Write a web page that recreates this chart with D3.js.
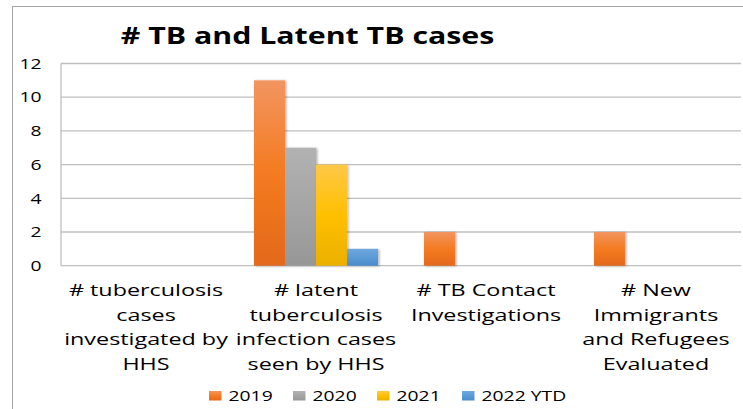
<!DOCTYPE html>
<html>
<head>
<meta charset="utf-8">
<script src="https://cdn.jsdelivr.net/npm/d3@7"></script>
<style>
html,body{margin:0;padding:0;background:#fff;}
svg{display:block;}
</style>
</head>
<body>
<svg id="chart" width="743" height="409"></svg>
<script>
// ---- data ----
const categories = [
  "# tuberculosis cases investigated by HHS",
  "# latent tuberculosis infection cases seen by HHS",
  "# TB Contact Investigations",
  "# New Immigrants and Refugees Evaluated"
];
const categoryLines = [
  ["# tuberculosis", "cases", "investigated by", "HHS"],
  ["# latent", "tuberculosis", "infection cases", "seen by HHS"],
  ["# TB Contact", "Investigations"],
  ["# New", "Immigrants", "and Refugees", "Evaluated"]
];
const seriesNames = ["2019", "2020", "2021", "2022 YTD"];
const values2019 = [0, 11, 2, 2];
const values2020 = [0, 7, 0, 0];
const values2021 = [0, 6, 0, 0];
const values2022 = [0, 1, 0, 0];
const yTicks = [0, 2, 4, 6, 8, 10, 12];
const titleText = "# TB and Latent TB cases";

const seriesValues = [values2019, values2020, values2021, values2022];
const colors = [
  ["#F29560", "#F47B20", "#E3691D"],
  ["#B2B2B2", "#A5A5A5", "#979797"],
  ["#FFC847", "#FFC000", "#EBAF00"],
  ["#6FA8DE", "#5B9BD5", "#4A8BCB"]
];

// ---- layout ----
const W = 743, H = 409;
const plot = {left: 61, right: 741, top: 63.5, bottom: 265.7};
const FONT = "'Open Sans', 'DejaVu Sans', sans-serif";
const SX = 1.36; // horizontal stretch seen in the reference text

const svg = d3.select("#chart");
const defs = svg.append("defs");
colors.forEach((c, i) => {
  const g = defs.append("linearGradient").attr("id", "grad" + i)
    .attr("x1", 0).attr("y1", 0).attr("x2", 0).attr("y2", 1);
  g.append("stop").attr("offset", "0%").attr("stop-color", c[0]);
  g.append("stop").attr("offset", "50%").attr("stop-color", c[1]);
  g.append("stop").attr("offset", "100%").attr("stop-color", c[2]);
});
const f = defs.append("filter").attr("id", "shadow")
  .attr("x", "-20%").attr("y", "-5%").attr("width", "150%").attr("height", "115%");
f.append("feDropShadow").attr("dx", 1.5).attr("dy", 0.5).attr("stdDeviation", 1)
  .attr("flood-color", "#000").attr("flood-opacity", 0.3);

// outer chart border (only left/top visible)
svg.append("rect").attr("x", 12.5).attr("y", 6.5).attr("width", W).attr("height", H)
  .attr("fill", "none").attr("stroke", "#A6A6A6").attr("stroke-width", 1);

const x0 = d3.scaleBand().domain(categories).range([plot.left, plot.right]).paddingInner(0).paddingOuter(0);
const x1 = d3.scaleBand().domain(seriesNames).range([0, x0.bandwidth()]).paddingInner(0).paddingOuter(0.74);
const y = d3.scaleLinear().domain([0, 12]).range([plot.bottom, plot.top]);

// gridlines
svg.append("g").selectAll("line").data(yTicks).join("line")
  .attr("x1", plot.left).attr("x2", plot.right)
  .attr("y1", d => y(d)).attr("y2", d => y(d))
  .attr("stroke", "#BFBFBF").attr("stroke-width", 1.3);
// plot area left border
svg.append("line").attr("x1", plot.left).attr("x2", plot.left)
  .attr("y1", plot.top).attr("y2", plot.bottom)
  .attr("stroke", "#BFBFBF").attr("stroke-width", 1.3);

// y tick labels
svg.append("g").selectAll("text").data(yTicks).join("text")
  .attr("transform", d => `translate(41.5,${y(d) + 5.2}) scale(${SX * 0.98},1)`)
  .attr("text-anchor", "end")
  .attr("font-family", FONT).attr("font-size", 14.5).attr("fill", "#000")
  .text(d => d);

// bars
const barData = [];
categories.forEach((c, ci) => {
  seriesNames.forEach((s, si) => {
    barData.push({cat: c, series: s, si: si, value: seriesValues[si][ci]});
  });
});
svg.append("g").selectAll("rect").data(barData.filter(d => d.value > 0)).join("rect")
  .attr("x", d => x0(d.cat) + x1(d.series))
  .attr("y", d => y(d.value))
  .attr("width", x1.bandwidth())
  .attr("height", d => y(0) - y(d.value))
  .attr("fill", d => `url(#grad${d.si})`)
  .attr("filter", "url(#shadow)");

// category labels
const catG = svg.append("g");
categories.forEach((c, ci) => {
  const cx = x0(c) + x0.bandwidth() / 2;
  categoryLines[ci].forEach((line, li) => {
    catG.append("text")
      .attr("transform", `translate(${cx},${296 + li * 24.5}) scale(1.39,1)`)
      .attr("text-anchor", "middle")
      .attr("font-family", FONT).attr("font-size", 16.8).attr("fill", "#000")
      .text(line);
  });
});

// title
svg.append("text")
  .attr("transform", `translate(307.5,44.3) scale(1.29,1)`)
  .attr("text-anchor", "middle")
  .attr("font-family", FONT).attr("font-weight", "bold").attr("font-size", 23.5).attr("fill", "#000")
  .text(titleText);

// legend
const legX = [209, 293, 377, 462];
const leg = svg.append("g").selectAll("g").data(seriesNames).join("g")
  .attr("transform", (d, i) => `translate(${legX[i]},391)`);
leg.append("rect").attr("width", 12.5).attr("height", 9.5)
  .attr("fill", (d, i) => `url(#grad${i})`);
leg.append("text")
  .attr("transform", `translate(19.5,9.8) scale(${SX * 0.98},1)`)
  .attr("font-family", FONT).attr("font-size", 14.5).attr("fill", "#000")
  .text(d => d);
</script>
</body>
</html>
